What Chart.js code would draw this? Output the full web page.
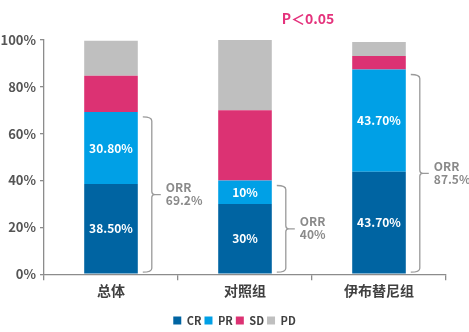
<!DOCTYPE html>
<html>
<head>
<meta charset="utf-8">
<script src="https://cdn.jsdelivr.net/npm/chart.js@4"></script>
<style>
    html, body { margin: 0; padding: 0; background: #fff; }
</style>
</head>
<body>
<canvas id="myChart" width="469" height="332"></canvas>
<script>
const groups = ['总体', '对照组', '伊布替尼组'];
const crValues = [38.5, 30, 43.7];
const prValues = [30.8, 10, 43.7];
const sdValues = [15.4, 30, 5.8];
const pdValues = [15.0, 30, 5.9];
const orrValues = [69.2, 40, 87.5];
const yTicks = [0, 20, 40, 60, 80, 100];

const FONT = "'Noto Sans CJK SC', 'Noto Sans', sans-serif";
const AXIS_COLOR = '#8c8c8c';

function pct(v) {
    return Number.isInteger(v) ? v + '%' : v.toFixed(2) + '%';
}

// white value labels inside the CR and PR segments
const segmentLabels = {
    id: 'segmentLabels',
    afterDatasetsDraw(chart) {
        const ctx = chart.ctx;
        ctx.save();
        ctx.font = 'bold 12px ' + FONT;
        ctx.fillStyle = '#ffffff';
        ctx.textAlign = 'center';
        ctx.textBaseline = 'middle';
        [0, 1].forEach(function (di) {
            const meta = chart.getDatasetMeta(di);
            meta.data.forEach(function (bar, i) {
                const v = chart.data.datasets[di].data[i];
                ctx.fillText(pct(v), bar.x, (bar.y + bar.base) / 2);
            });
        });
        ctx.restore();
    }
};

// ORR braces to the right of each bar
const orrBraces = {
    id: 'orrBraces',
    afterDatasetsDraw(chart) {
        const ctx = chart.ctx;
        const y = chart.scales.y;
        const meta = chart.getDatasetMeta(1);
        ctx.save();
        ctx.strokeStyle = '#9a9a9a';
        ctx.lineWidth = 1.3;
        meta.data.forEach(function (bar, i) {
            const right = bar.x + bar.width / 2;
            const top = y.getPixelForValue(crValues[i] + prValues[i]) + 5;
            const bottom = y.getPixelForValue(0) - 2;
            const mid = (top + bottom) / 2;
            const x0 = right + 5;
            const x1 = right + 14;
            const nub = x1 + 9;
            ctx.beginPath();
            ctx.moveTo(x0, top);
            ctx.quadraticCurveTo(x1, top, x1, top + 4);
            ctx.lineTo(x1, mid - 3);
            ctx.quadraticCurveTo(x1, mid, x1 + 3, mid);
            ctx.lineTo(nub, mid);
            ctx.moveTo(x1 + 3, mid);
            ctx.quadraticCurveTo(x1, mid, x1, mid + 3);
            ctx.lineTo(x1, bottom - 4);
            ctx.quadraticCurveTo(x1, bottom, x0, bottom);
            ctx.stroke();

            ctx.font = 'bold 12px ' + FONT;
            ctx.fillStyle = '#8a8a8a';
            ctx.textAlign = 'left';
            ctx.textBaseline = 'middle';
            ctx.fillText('ORR', nub + 5, mid - 7);
            ctx.fillText(orrValues[i] + '%', nub + 5, mid + 6);
        });
        ctx.restore();
    }
};

// significance note above the chart
const pNote = {
    id: 'pNote',
    afterDraw(chart) {
        const ctx = chart.ctx;
        const x = chart.scales.x;
        const cx = (x.getPixelForTick(1) + x.getPixelForTick(2)) / 2 - 4;
        ctx.save();
        ctx.font = 'bold 14px ' + FONT;
        ctx.fillStyle = '#e4327c';
        ctx.textAlign = 'center';
        ctx.textBaseline = 'middle';
        ctx.fillText('P＜0.05', cx, 19);
        ctx.restore();
    }
};

const data = {
    labels: groups,
    datasets: [
        { label: 'CR', data: crValues, backgroundColor: '#0064a2' },
        { label: 'PR', data: prValues, backgroundColor: '#00a0e6' },
        { label: 'SD', data: sdValues, backgroundColor: '#dc3273' },
        { label: 'PD', data: pdValues, backgroundColor: '#bfbfbf' }
    ]
};

const config = {
    type: 'bar',
    data: data,
    options: {
        responsive: false,
        animation: false,
        barPercentage: 0.4,
        categoryPercentage: 1,
        layout: {
            padding: { top: 40, right: 0, left: 0, bottom: -4 }
        },
        scales: {
            x: {
                stacked: true,
                afterFit(scale) { scale.height += 11; },
                border: { display: true, color: AXIS_COLOR, width: 1.3 },
                grid: { display: true, drawOnChartArea: false, drawTicks: true, tickLength: 6, color: AXIS_COLOR, lineWidth: 1.3 },
                ticks: { color: '#404040', font: { family: FONT, size: 14, weight: 'bold' }, padding: 2 }
            },
            y: {
                stacked: true,
                min: 0,
                max: 100,
                afterFit(scale) { scale.width = 44; },
                afterBuildTicks(scale) { scale.ticks = yTicks.map(function (v) { return { value: v }; }); },
                border: { display: true, color: AXIS_COLOR, width: 1.3 },
                grid: { display: true, drawOnChartArea: false, drawTicks: true, tickLength: 4, color: AXIS_COLOR, lineWidth: 1.3 },
                ticks: {
                    color: '#555555',
                    font: { family: FONT, size: 13, weight: 'bold' },
                    padding: 4,
                    callback: function (v) { return v + '%'; }
                }
            },
            // empty axis that only reserves the right margin
            gap: {
                type: 'linear',
                position: 'right',
                display: true,
                afterFit(scale) { scale.width = 23; },
                border: { display: false },
                grid: { display: false },
                ticks: { display: false }
            }
        },
        plugins: {
            legend: {
                position: 'bottom',
                labels: {
                    boxWidth: 8,
                    boxHeight: 8,
                    padding: 3,
                    color: '#404040',
                    font: { family: FONT, size: 11, weight: 'bold' }
                }
            },
            tooltip: { enabled: false }
        }
    },
    plugins: [segmentLabels, orrBraces, pNote]
};

var myChart = new Chart(document.getElementById('myChart'), config);
</script>
</body>
</html>
